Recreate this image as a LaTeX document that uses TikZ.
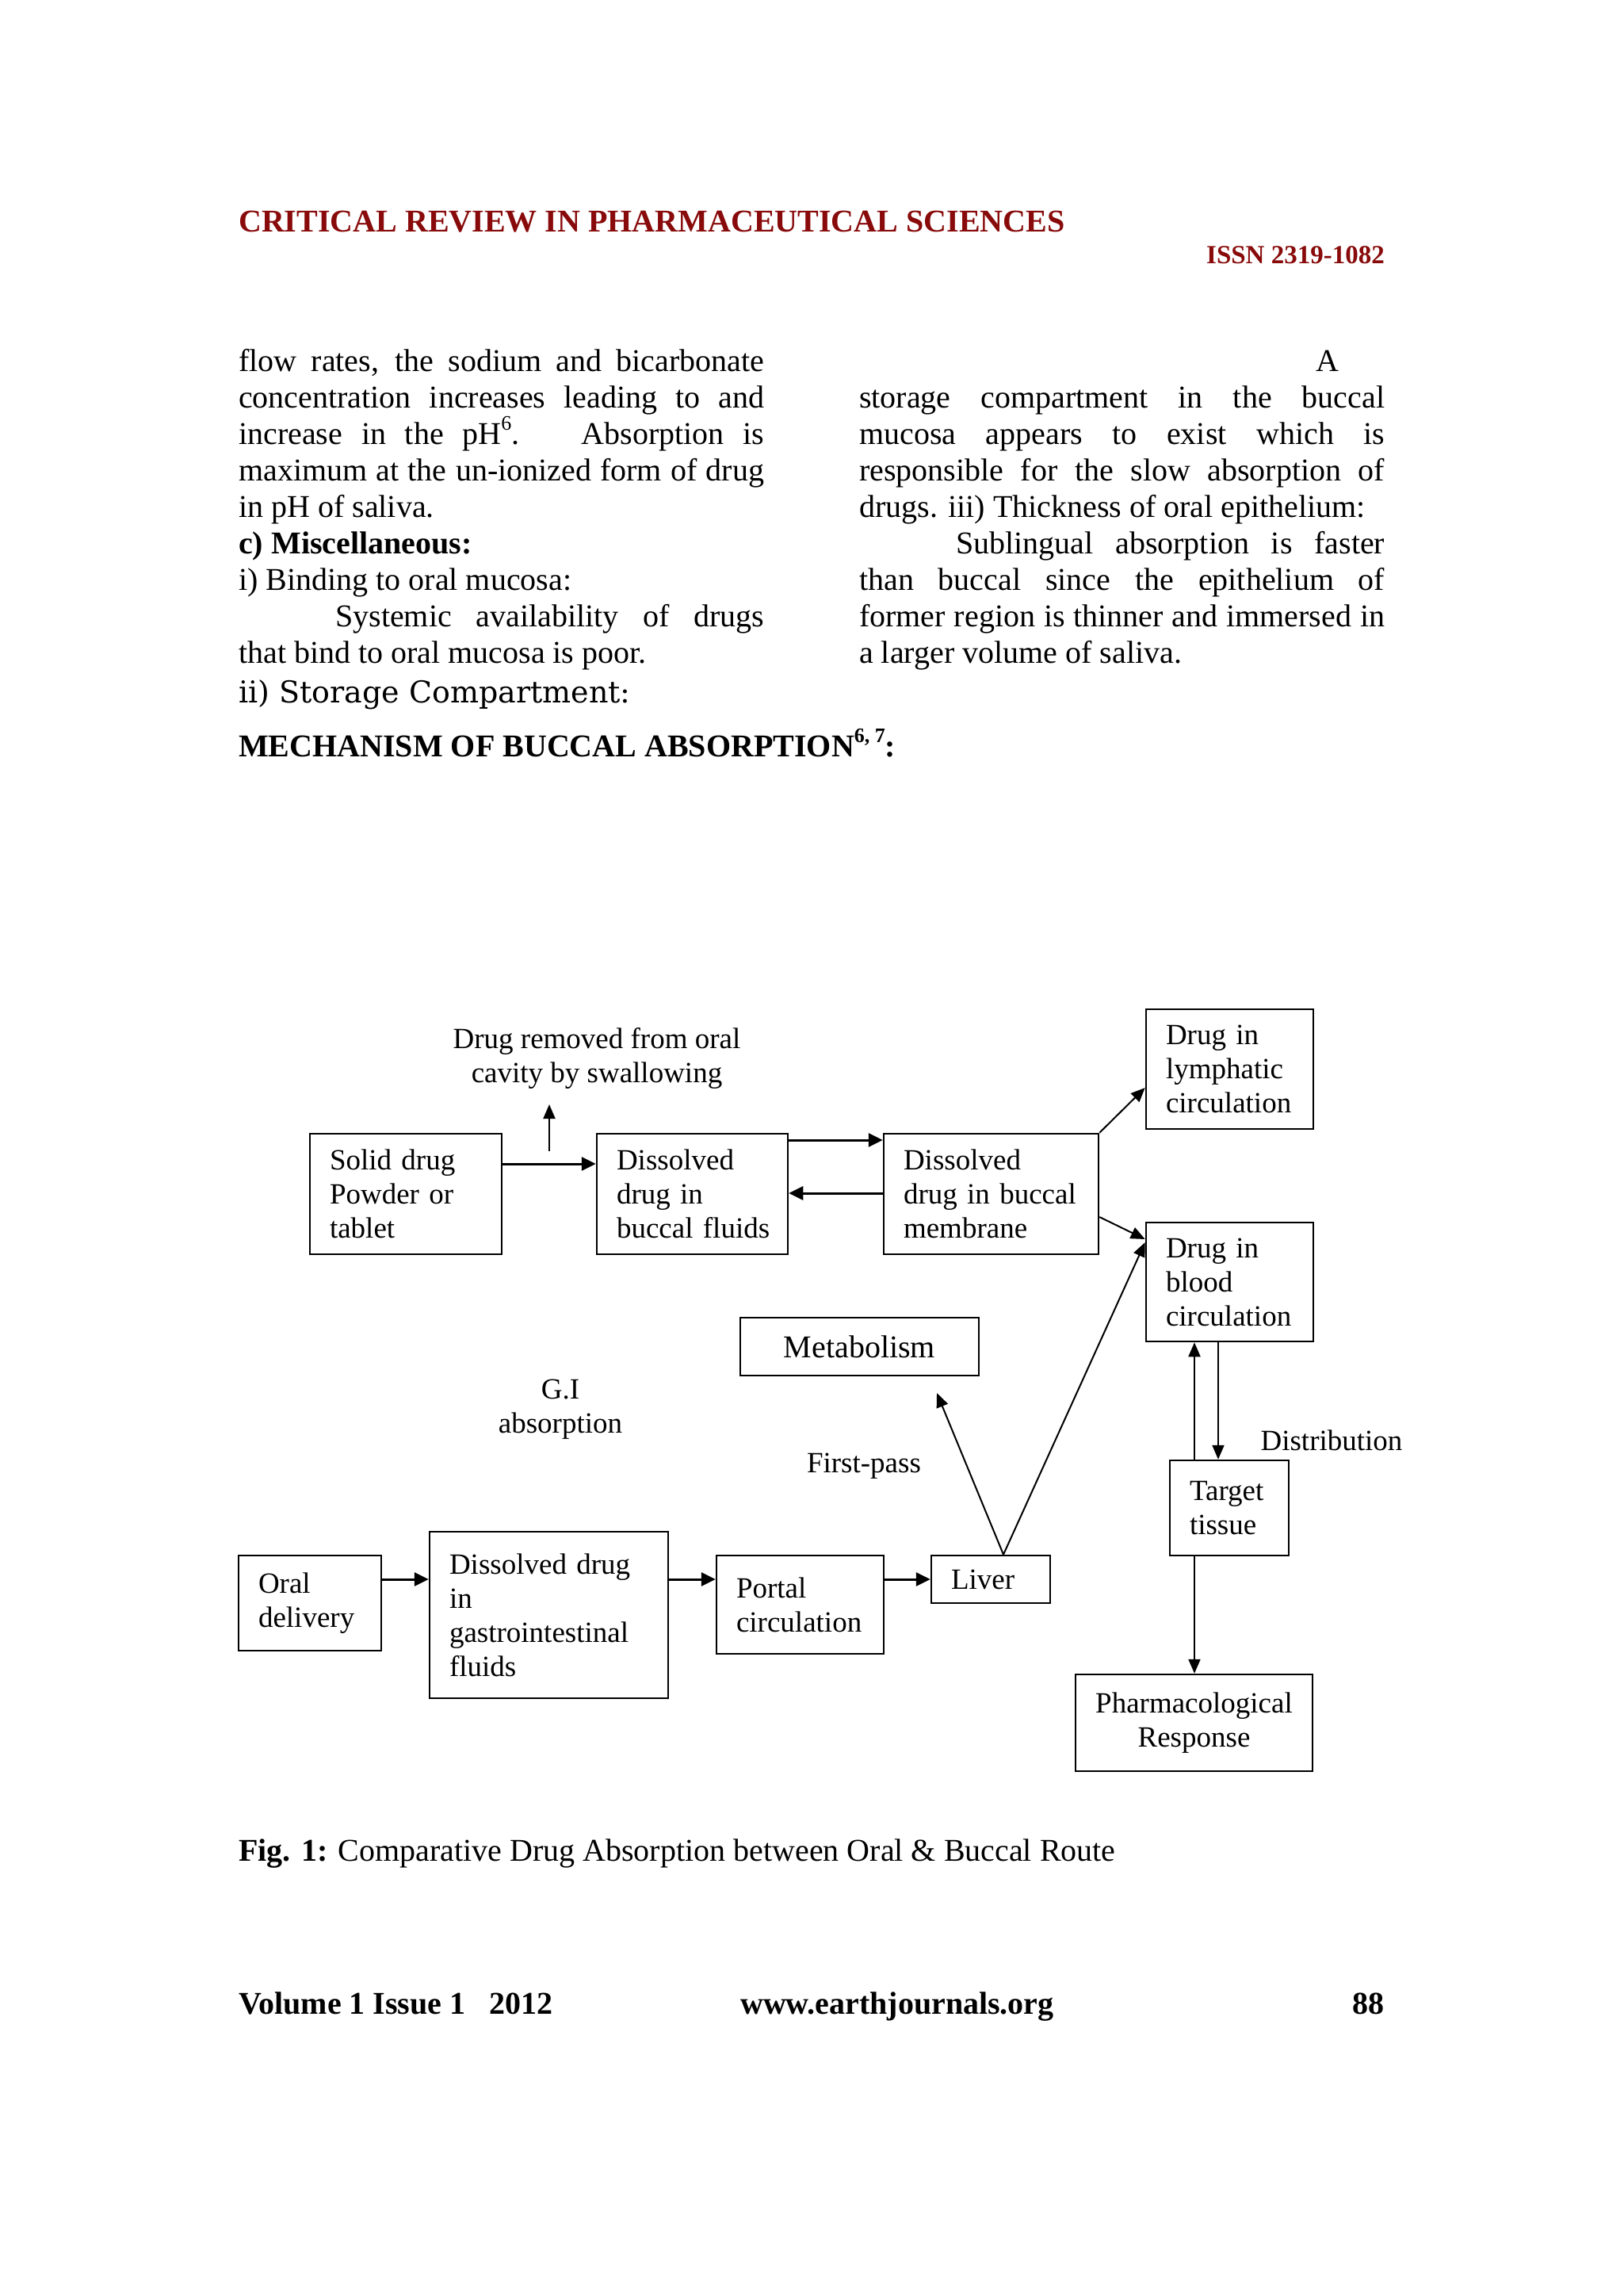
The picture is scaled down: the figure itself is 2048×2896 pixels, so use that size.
\documentclass[tikz,border=0pt]{standalone}
\usepackage{fontspec}
\setmainfont{Liberation Serif}
\newfontfamily\bookfont{DejaVu Serif}
\usetikzlibrary{arrows.meta}
\definecolor{hdr}{RGB}{136,10,10}
\newcommand\bodyfs{\fontsize{40}{46}\selectfont}
\newcommand\diagfs{\fontsize{37}{43}\selectfont\hyphenpenalty=10000\exhyphenpenalty=10000\relax}
\newcommand\jl[2]{\makebox[#1pt][s]{#2}}
\newcommand\sups[1]{\raisebox{0.45em}{\fontsize{26}{26}\selectfont #1}}
\begin{document}
\begin{tikzpicture}[x=1pt,y=-1pt,
  box/.style={draw, line width=2.5pt, inner xsep=25pt, inner ysep=0pt, align=left, font=\diagfs},
  cbox/.style={draw, line width=2.5pt, inner xsep=10pt, inner ysep=0pt, align=center, font=\diagfs},
  lbl/.style={align=center, font=\diagfs, inner sep=0pt},
  txt/.style={anchor=base west, inner sep=0pt, font=\bodyfs},
  thk/.style={line width=3pt, -{Triangle[length=18pt,width=17pt]}},
  thn/.style={line width=2pt, -{Triangle[length=18pt,width=15pt]}}]
\useasboundingbox[fill=white] (0,0) rectangle (2048,2896);

% header
\node[anchor=base west, inner sep=0pt, font=\fontsize{40}{46}\selectfont\bfseries, text=hdr] (title) at (301,292) {CRITICAL REVIEW IN PHARMACEUTICAL SCIENCES};
\node[anchor=base east, inner sep=0pt, font=\fontsize{33}{38}\selectfont\bfseries, text=hdr] (issn) at (1747,332) {ISSN 2319-1082};

% left column
\node[txt] (l1) at (301,468) {\jl{663}{flow rates, the sodium and bicarbonate}};
\node[txt] (l2) at (301,514) {\jl{663}{concentration increases leading to and}};
\node[txt] (l3) at (301,560) {\jl{663}{increase in the pH\sups{6}. \ Absorption is}};
\node[txt] (l4) at (301,606) {\jl{663}{maximum at the un-ionized form of drug}};
\node[txt] (l5) at (301,652) {in pH of saliva.};
\node[txt] (l6) at (301,698) {\bfseries c) Miscellaneous:};
\node[txt] (l7) at (301,744) {i) Binding to oral mucosa:};
\node[txt] (l8) at (423,790) {\jl{541}{Systemic availability of drugs}};
\node[txt] (l9) at (301,836) {that bind to oral mucosa is poor.};
\node[txt, font=\bookfont\fontsize{38}{46}\selectfont] (l10) at (301,886) {ii) Storage Compartment:};

% right column
\node[txt] (r1) at (1660,468) {A};
\node[txt] (r2) at (1084,514) {\jl{663}{storage compartment in the buccal}};
\node[txt] (r3) at (1084,560) {\jl{663}{mucosa appears to exist which is}};
\node[txt] (r4) at (1084,606) {\jl{663}{responsible for the slow absorption of}};
\node[txt] (r5) at (1084,652) {drugs. iii) Thickness of oral epithelium:};
\node[txt] (r6) at (1206,698) {\jl{541}{Sublingual absorption is faster}};
\node[txt] (r7) at (1084,744) {\jl{663}{than buccal since the epithelium of}};
\node[txt] (r8) at (1084,790) {\jl{663}{former region is thinner and immersed in}};
\node[txt] (r9) at (1084,836) {a larger volume of saliva.};

\node[txt] (mech) at (301,954) {\bfseries MECHANISM OF BUCCAL ABSORPTION\sups{6, 7}:};

% diagram boxes
\node[box, text width=192pt, minimum height=152pt] (solid) at (512,1506) {Solid drug\\Powder or\\tablet};
\node[box, text width=191pt, minimum height=152pt] (fluids) at (873.5,1506) {Dissolved\\drug in\\\mbox{buccal fluids}};
\node[box, text width=221pt, minimum height=152pt] (membrane) at (1250.5,1506) {Dissolved\\\mbox{drug in buccal}\\membrane};
\node[box, text width=161pt, minimum height=151pt] (lymph) at (1551.5,1348.5) {Drug in\\lymphatic\\circulation};
\node[box, text width=161pt, minimum height=150pt] (blood) at (1551.5,1617) {Drug in\\blood\\circulation};
\node[cbox, minimum width=301pt, minimum height=73pt, font=\fontsize{40}{46}\selectfont] (metab) at (1084.5,1698.5) {Metabolism};
\node[box, text width=100pt, minimum height=120pt] (target) at (1551,1902) {Target\\tissue};
\node[box, text width=130pt, minimum height=120pt] (oral) at (391,2022) {Oral\\delivery};
\node[box, text width=251pt, minimum height=210pt] (gi) at (692.5,2037) {\mbox{Dissolved drug}\\in\\gastrointestinal\\fluids};
\node[box, text width=161pt, minimum height=124pt] (portal) at (1009.5,2024) {Portal\\circulation};
\node[box, text width=100pt, minimum height=60pt] (liver) at (1250,1992) {Liver};
\node[cbox, minimum width=299pt, minimum height=122pt] (pharm) at (1506.5,2173) {Pharmacological\\Response};

% free labels
\node[lbl] (swallow) at (753,1335) {Drug removed from oral\\cavity by swallowing};
\node[lbl] (gilbl) at (707,1778) {G.I\\absorption};
\node[lbl] (fp) at (1090,1849) {First-pass};
\node[lbl] (dist) at (1680,1817) {Distribution};

\coordinate (swb) at (693,1452);
\coordinate (swt) at (693,1393);
\coordinate (mtip) at (1182,1757);

% connectors
\draw[thk] ([yshift=38pt]solid.east) -- ([yshift=38pt]fluids.west);
\draw[thn] (swb) -- (swt);
\draw[thk] ([yshift=68pt]fluids.east) -- ([yshift=68pt]membrane.west);
\draw[thk] ([yshift=1pt]membrane.west) -- ([yshift=1pt]fluids.east);
\draw[thn] (membrane.north east) -- ([yshift=-23.5pt]lymph.west);
\draw[thn] ([yshift=-29pt]membrane.east) -- ([yshift=54pt]blood.west);
\draw[thk] ([yshift=30pt]oral.east) -- ([yshift=45pt]gi.west);
\draw[thk] ([yshift=45pt]gi.east) -- ([yshift=32pt]portal.west);
\draw[thk] ([yshift=32pt]portal.east) -- (liver.west);
\draw[thn] ([xshift=16pt]liver.north) -- (mtip);
\draw[thn] ([xshift=16pt]liver.north) -- ([yshift=50pt]blood.west);
\draw[thn] ([xshift=-44pt]target.north) -- ([xshift=-44.5pt]blood.south);
\draw[thn] ([xshift=-14.5pt]blood.south) -- ([xshift=-14pt]target.north);
\draw[thn] ([xshift=-44pt]target.south) -- ([xshift=0.5pt]pharm.north);

% caption and footer
\node[txt] (cap) at (301,2347) {\textbf{Fig. 1:} Comparative Drug Absorption between Oral \& Buccal Route};
\node[txt] (vol) at (301,2540) {\bfseries Volume 1 Issue 1 \ \ 2012};
\node[txt] (www) at (934,2540) {\bfseries www.earthjournals.org};
\node[anchor=base east, inner sep=0pt, font=\bodyfs\bfseries] (pg) at (1747,2540) {88};
\end{tikzpicture}
\end{document}
